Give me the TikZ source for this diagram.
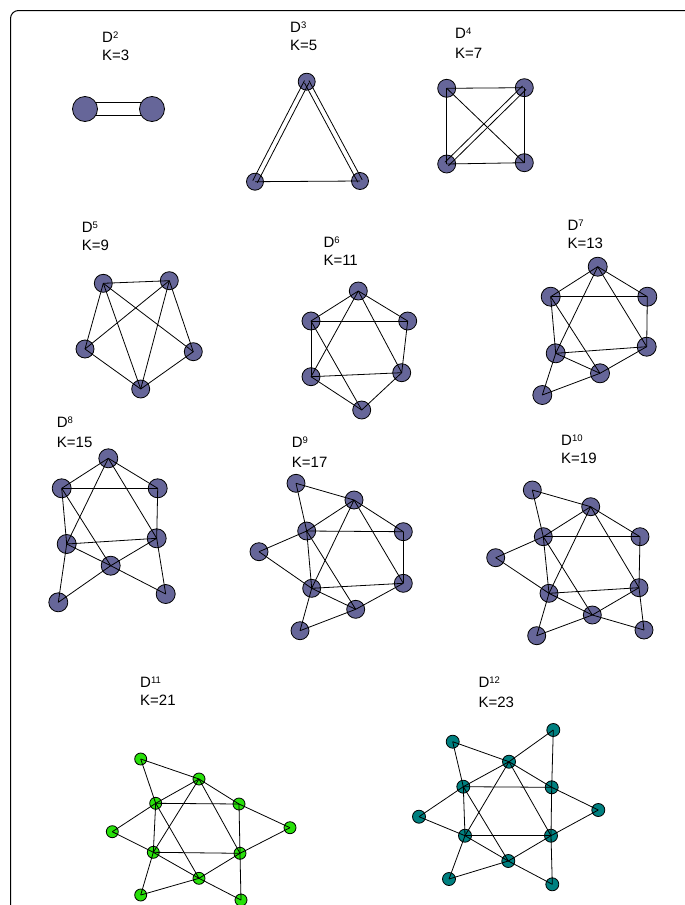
\documentclass[tikz,border=0pt]{standalone}
\usepackage{fontspec}
\setmainfont{Liberation Sans}
\usetikzlibrary{calc,backgrounds}
\definecolor{nblue}{RGB}{102,102,153}
\definecolor{ngreen}{RGB}{40,225,10}
\definecolor{nteal}{RGB}{0,128,128}
\newcommand{\sups}[1]{\raisebox{4pt}{\fontsize{9.5}{10}\selectfont #1}}
\newcommand{\glab}[6]{\node[lab] (#1d) at (#2,#3) {D\sups{#5}}; \node[lab] (#1k) at (#2,#4) {K=#6};}
\newcommand{\dbl}[3]{\draw[edge] ($(#1.center)!#3!90:(#2.center)$) -- ($(#2.center)!#3!-90:(#1.center)$);
  \draw[edge] ($(#1.center)!#3!-90:(#2.center)$) -- ($(#2.center)!#3!90:(#1.center)$);}
\tikzset{
  vtx/.style={circle,draw=black,line width=0.8pt,fill=nblue,inner sep=0pt,minimum size=18pt},
  gvtx/.style={vtx,fill=ngreen,minimum size=12pt},
  tvtx/.style={vtx,fill=nteal,minimum size=13pt},
  edge/.style={line width=0.8pt,draw=black},
  lab/.style={anchor=base west,inner sep=0pt,font=\fontsize{15}{18}\selectfont},
}
\begin{document}
\begin{tikzpicture}[x=1pt,y=-1pt]
\useasboundingbox (0,0) rectangle (685,905);
\draw[line width=1pt,rounded corners=8pt] (10.5,910) -- (10.5,10.5) -- (686,10.5);
% labels
\glab{l2}{102}{42.3}{60}{2}{3}
\glab{l3}{290}{32}{50.3}{3}{5}
\glab{l4}{455}{38.6}{58.6}{4}{7}
\glab{l5}{81.7}{232}{250.3}{5}{9}
\glab{l6}{323.3}{247}{265.3}{6}{11}
\glab{l7}{567.3}{230.3}{248.6}{7}{13}
\glab{l8}{56.7}{427}{447}{8}{15}
\glab{l9}{291.7}{447}{467}{9}{17}
\glab{l10}{561}{445.3}{463.6}{10}{19}
\glab{l11}{140}{687}{705.3}{11}{21}
\glab{l12}{478.3}{687}{707}{12}{23}
% D2
\node[vtx,minimum size=25pt] (a1) at (85,109) {};
\node[vtx,minimum size=25pt] (a2) at (152,109) {};
\begin{scope}[on background layer]
\dbl{a1}{a2}{6.5pt}
\end{scope}
% D3
\node[vtx,minimum size=17pt] (b1) at (306.7,81.7) {};
\node[vtx,minimum size=17pt] (b2) at (255,181.7) {};
\node[vtx,minimum size=17pt] (b3) at (360,181) {};
\draw[edge] (b2.center) -- (b3.center);
\dbl{b1}{b2}{2.5pt}
\dbl{b1}{b3}{2.5pt}
% D4
\node[vtx] (c1) at (446.7,88.3) {};
\node[vtx] (c2) at (524.3,87.7) {};
\node[vtx] (c3) at (446.7,164) {};
\node[vtx] (c4) at (524.3,162.7) {};
\foreach \p/\q in {c1/c2,c2/c4,c4/c3,c3/c1,c1/c4}
  \draw[edge] (\p.center) -- (\q.center);
\dbl{c3}{c2}{2.5pt}
% D5
\node[vtx] (e1) at (103.3,283.3) {};
\node[vtx] (e2) at (169.3,280.7) {};
\node[vtx] (e3) at (85,349) {};
\node[vtx] (e4) at (193.3,351.7) {};
\node[vtx] (e5) at (140.7,389) {};
\foreach \p/\q in {e1/e2,e1/e3,e1/e5,e1/e4,e2/e3,e2/e5,e2/e4,e3/e5,e4/e5}
  \draw[edge] (\p.center) -- (\q.center);
% D6
\node[vtx] (f1) at (358.3,291) {};
\node[vtx] (f2) at (311,321) {};
\node[vtx] (f3) at (407.7,321) {};
\node[vtx] (f4) at (311,376.7) {};
\node[vtx] (f5) at (401.7,372.7) {};
\node[vtx] (f6) at (361.7,410) {};
\foreach \p/\q in {1/2,1/3,1/4,1/5,2/3,2/4,2/6,3/5,4/5,4/6,5/6}
  \draw[edge] (f\p.center) -- (f\q.center);
% D7
\node[vtx,minimum size=19pt] (g1) at (597.7,266.7) {};
\node[vtx,minimum size=19pt] (g2) at (550.7,296.7) {};
\node[vtx,minimum size=19pt] (g3) at (647.3,296.7) {};
\node[vtx,minimum size=19pt] (g4) at (555.7,353.3) {};
\node[vtx,minimum size=19pt] (g5) at (646.7,346.7) {};
\node[vtx,minimum size=19pt] (g6) at (600,373.3) {};
\node[vtx,minimum size=19pt] (g7) at (542.3,395) {};
\foreach \p/\q in {1/2,1/3,1/4,1/5,2/3,2/4,2/6,3/5,4/5,4/6,5/6,7/4,7/6}
  \draw[edge] (g\p.center) -- (g\q.center);
% D8
\node[vtx,minimum size=19pt] (h1) at (108.3,458.3) {};
\node[vtx,minimum size=19pt] (h2) at (61.7,488.3) {};
\node[vtx,minimum size=19pt] (h3) at (157.7,488.3) {};
\node[vtx,minimum size=19pt] (h4) at (66.7,544) {};
\node[vtx,minimum size=19pt] (h5) at (156.7,538.3) {};
\node[vtx,minimum size=19pt] (h6) at (110.7,565.7) {};
\node[vtx,minimum size=19pt] (h7) at (58.3,602.3) {};
\node[vtx,minimum size=19pt] (h8) at (165.7,594) {};
\foreach \p/\q in {1/2,1/3,1/4,1/5,2/3,2/4,2/6,3/5,4/5,4/6,5/6,7/4,7/6,8/5,8/6}
  \draw[edge] (h\p.center) -- (h\q.center);
% D9
\node[vtx] (i0) at (296,483.3) {};
\node[vtx] (i1) at (354,500) {};
\node[vtx] (i2) at (306.7,531) {};
\node[vtx] (i3) at (403.3,531.7) {};
\node[vtx] (i7) at (259,551.7) {};
\node[vtx] (i4) at (311.7,588.3) {};
\node[vtx] (i5) at (403.3,583.3) {};
\node[vtx] (i6) at (355.7,609.3) {};
\node[vtx] (i8) at (300,630.7) {};
\foreach \p/\q in {1/2,1/3,1/4,1/5,2/3,2/4,2/6,3/5,4/5,4/6,5/6,0/1,0/2,7/2,7/4,8/4,8/6}
  \draw[edge] (i\p.center) -- (i\q.center);
% D10
\node[vtx] (j0) at (532.3,490) {};
\node[vtx] (j1) at (590.7,506.7) {};
\node[vtx] (j2) at (543.3,536.7) {};
\node[vtx] (j3) at (640,536.7) {};
\node[vtx] (j7) at (495.7,557.7) {};
\node[vtx] (j4) at (549,593.3) {};
\node[vtx] (j5) at (639,587.7) {};
\node[vtx] (j6) at (592.3,615) {};
\node[vtx] (j8) at (536.7,635.7) {};
\node[vtx] (j9) at (644,630) {};
\foreach \p/\q in {1/2,1/3,1/4,1/5,2/3,2/4,2/6,3/5,4/5,4/6,5/6,0/1,0/2,7/2,7/4,8/4,8/6,9/5,9/6}
  \draw[edge] (j\p.center) -- (j\q.center);
% D11
\node[gvtx] (k0) at (140.7,759) {};
\node[gvtx] (k1) at (199,779) {};
\node[gvtx] (k2) at (155.7,803.3) {};
\node[gvtx] (k3) at (239,804) {};
\node[gvtx] (k7) at (112.3,831.7) {};
\node[gvtx] (k10) at (290,827.7) {};
\node[gvtx] (k4) at (153.3,852.3) {};
\node[gvtx] (k5) at (240,853.3) {};
\node[gvtx] (k6) at (199,878.3) {};
\node[gvtx] (k8) at (140.7,895) {};
\node[gvtx] (k9) at (241,900) {};
\foreach \p/\q in {1/2,1/3,1/4,1/5,2/3,2/4,2/6,3/5,4/5,4/6,5/6,0/1,0/2,7/2,7/4,8/4,8/6,9/5,9/6,10/3,10/5}
  \draw[edge] (k\p.center) -- (k\q.center);
% D12
\node[tvtx] (m0) at (452.7,741.7) {};
\node[tvtx] (m11) at (553.3,730) {};
\node[tvtx] (m1) at (509,761.7) {};
\node[tvtx] (m2) at (463.3,786.7) {};
\node[tvtx] (m3) at (551.7,787.3) {};
\node[tvtx] (m7) at (419,816.7) {};
\node[tvtx] (m10) at (598.3,810) {};
\node[tvtx] (m4) at (465,835.7) {};
\node[tvtx] (m5) at (551,835.7) {};
\node[tvtx] (m6) at (508.3,861) {};
\node[tvtx] (m8) at (449,879) {};
\node[tvtx] (m9) at (552.3,884.3) {};
\foreach \p/\q in {1/2,1/3,1/4,1/5,2/3,2/4,2/6,3/5,4/5,4/6,5/6,0/1,0/2,7/2,7/4,8/4,8/6,9/5,9/6,10/3,10/5,11/1,11/3}
  \draw[edge] (m\p.center) -- (m\q.center);
\end{tikzpicture}
\end{document}
